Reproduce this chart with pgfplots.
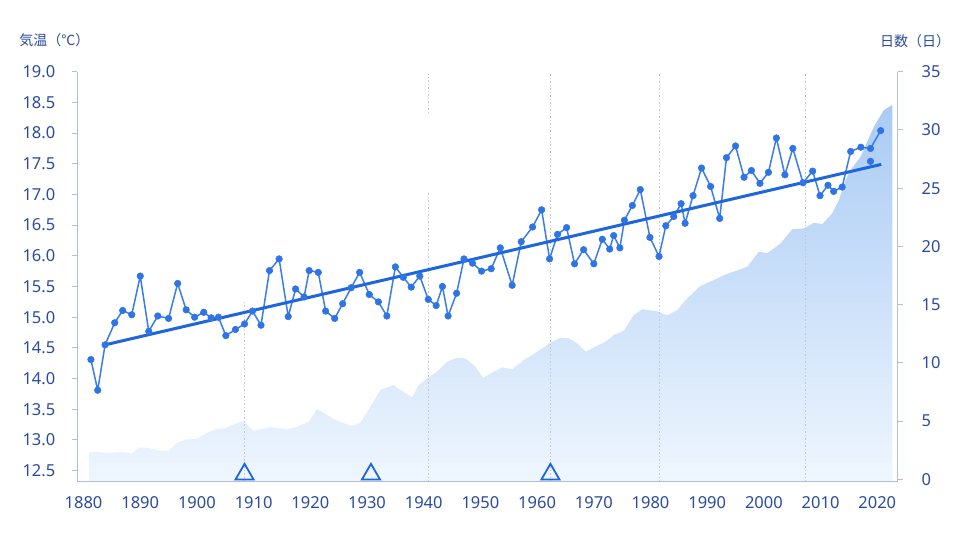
\documentclass[border=0pt]{standalone}
\usepackage{fontspec}
\setmainfont{Noto Sans}
\newfontfamily\cjk{Noto Sans CJK JP}
\usepackage{pgfplots}
\pgfplotsset{compat=1.18}
\definecolor{tickc}{HTML}{2B4C9E}
\definecolor{axc}{HTML}{AFBDE3}
\definecolor{linec}{HTML}{3A7DEA}
\definecolor{markc}{HTML}{2F74E6}
\definecolor{trendc}{HTML}{1E66DE}
\definecolor{gridc}{HTML}{C0C7D6}
\definecolor{areatop}{HTML}{A9CBF4}
\definecolor{areabot}{HTML}{EFF6FE}

\pgfplotstableread{
year temp
1881.3 14.31
1882.5 13.81
1883.8 14.55
1885.5 14.91
1886.9 15.11
1888.5 15.04
1890.0 15.67
1891.5 14.77
1893.1 15.02
1895.0 14.98
1896.6 15.55
1898.1 15.12
1899.6 15.00
1901.2 15.08
1902.5 14.99
1903.8 15.00
1905.1 14.70
1906.8 14.80
1908.4 14.89
1909.8 15.10
1911.3 14.87
1912.8 15.76
1914.5 15.95
1916.1 15.01
1917.4 15.46
1918.9 15.33
1919.8 15.76
1921.4 15.73
1922.7 15.10
1924.3 14.98
1925.7 15.22
1927.2 15.48
1928.7 15.73
1930.4 15.37
1932.0 15.25
1933.5 15.02
1935.0 15.82
1936.4 15.65
1937.8 15.49
1939.3 15.67
1940.8 15.29
1942.2 15.19
1943.3 15.50
1944.3 15.02
1945.8 15.39
1947.1 15.95
1948.6 15.88
1950.2 15.75
1951.9 15.79
1953.5 16.13
1955.6 15.52
1957.2 16.23
1959.2 16.47
1960.8 16.75
1962.2 15.95
1963.6 16.35
1965.2 16.46
1966.6 15.87
1968.2 16.10
1970.0 15.87
1971.5 16.27
1972.8 16.11
1973.5 16.33
1974.6 16.13
1975.4 16.58
1976.8 16.82
1978.2 17.08
1979.9 16.30
1981.5 15.99
1982.7 16.49
1984.1 16.64
1985.4 16.85
1986.1 16.53
1987.5 16.98
1989.0 17.43
1990.6 17.13
1992.2 16.61
1993.4 17.60
1995.0 17.79
1996.5 17.28
1997.8 17.39
1999.3 17.18
2000.8 17.36
2002.2 17.92
2003.7 17.32
2005.1 17.75
2006.9 17.19
2008.6 17.38
2009.9 16.98
2011.3 17.15
2012.3 17.05
2013.8 17.12
2015.3 17.70
2017.1 17.77
2018.8 17.75
2020.6 18.04
}\temps

\pgfplotstableread{
year days
1881.06 -0.2
1881.06 2.32
1882.06 2.37
1884.13 2.26
1886.48 2.34
1888.54 2.23
1889.71 2.75
1891.19 2.71
1893.53 2.46
1895.00 2.43
1896.48 3.14
1898.25 3.43
1900.01 3.49
1901.78 4.00
1903.24 4.29
1905.00 4.40
1906.47 4.72
1908.23 5.01
1910.00 4.17
1912.94 4.49
1915.89 4.29
1917.66 4.52
1919.70 4.95
1921.19 6.04
1922.95 5.52
1924.71 5.03
1927.36 4.58
1928.83 4.86
1930.59 6.23
1932.36 7.67
1934.70 8.10
1935.88 7.67
1937.95 7.04
1939.11 8.10
1940.60 8.67
1942.36 9.24
1944.13 10.10
1945.89 10.44
1947.35 10.39
1949.12 9.67
1950.48 8.72
1952.35 9.24
1953.83 9.62
1955.60 9.45
1957.64 10.24
1960.01 10.96
1962.35 11.73
1964.12 12.16
1965.58 12.11
1967.06 11.68
1968.53 10.96
1970.59 11.47
1972.06 11.82
1973.52 12.39
1975.29 12.76
1977.05 14.11
1978.54 14.60
1981.18 14.43
1982.95 14.08
1984.71 14.54
1986.48 15.54
1988.82 16.62
1991.17 17.11
1992.94 17.54
1995.00 17.89
1997.06 18.26
1999.11 19.54
2000.59 19.41
2002.94 20.26
2005.00 21.47
2007.05 21.55
2008.82 22.03
2010.30 21.92
2012.06 22.84
2013.23 23.98
2014.41 25.70
2015.30 26.56
2017.06 27.70
2019.40 30.28
2021.17 31.71
2022.65 32.14
2022.65 -0.2
}\days

\begin{document}
\begin{tikzpicture}
\useasboundingbox (-77.3pt,-58.3pt) rectangle (882.7pt,481.7pt);
% right axis: number of days (area)
\begin{axis}[
  at={(0pt,0pt)}, anchor=south west, scale only axis,
  width=820.4pt, height=410pt,
  xmin=1878.9, xmax=2023.6, ymin=-0.2, ymax=35,
  axis x line=none, axis y line*=right,
  axis line style={axc, line width=1.2pt},
  ytick={0,5,...,35},
  tick align=outside, major tick length=5.5pt,
  tick style={axc, line width=1pt},
  yticklabel style={font=\fontsize{16.5}{20}\selectfont, text=tickc, xshift=15pt},
  /pgf/number format/assume math mode=true,
]
\addplot[draw=none, top color=areatop, bottom color=areabot] table[x=year, y=days] {\days} -- cycle;
\end{axis}
% left axis: temperature
\begin{axis}[
  at={(0pt,0pt)}, anchor=south west, scale only axis,
  width=820.4pt, height=410pt,
  xmin=1878.9, xmax=2023.6, ymin=12.32, ymax=19.0,
  axis x line*=bottom, axis y line*=left,
  axis line style={axc, line width=1.2pt},
  xtick={1880,1890,...,2020},
  ytick={12.5,13,...,19},
  x tick style={draw=none},
  y tick style={axc, line width=1pt},
  tick align=outside, major tick length=5.5pt,
  yticklabel style={font=\fontsize{16.5}{20}\selectfont, text=tickc, xshift=-13pt,
    /pgf/number format/fixed, /pgf/number format/fixed zerofill, /pgf/number format/precision=1},
  xticklabel style={font=\fontsize{16.5}{20}\selectfont, text=tickc, yshift=-6pt,
    /pgf/number format/1000 sep={}},
  /pgf/number format/assume math mode=true,
  clip=false,
]
% dotted guide lines
\addplot[gridc, line width=0.8pt, dash pattern=on 1.5pt off 2pt] coordinates {(1908.4,12.32) (1908.4,15.27)};
\addplot[gridc, line width=0.8pt, dash pattern=on 1.5pt off 2pt] coordinates {(1940.8,12.32) (1940.8,17.03)};
\addplot[gridc, line width=0.8pt, dash pattern=on 1.5pt off 2pt] coordinates {(1940.8,18.32) (1940.8,18.97)};
\addplot[gridc, line width=0.8pt, dash pattern=on 1.5pt off 2pt] coordinates {(1962.3,12.32) (1962.3,18.97)};
\addplot[gridc, line width=0.8pt, dash pattern=on 1.5pt off 2pt] coordinates {(1981.5,12.32) (1981.5,18.97)};
\addplot[gridc, line width=0.8pt, dash pattern=on 1.5pt off 2pt] coordinates {(2007.3,12.32) (2007.3,18.97)};
% triangles
\addplot[trendc, only marks, mark=triangle, mark size=10.5pt, mark options={solid, draw=trendc, line width=1.8pt, fill=none}]
  coordinates {(1908.4,12.44) (1930.7,12.44) (1962.35,12.44)};
% data line
\addplot[linec, line width=1.5pt, no marks] table[x=year, y=temp] {\temps};
% trend
\addplot[trendc, line width=3pt, no marks] coordinates {(1883.8,14.55) (2020.7,17.49)};
% markers
\addplot[markc, line width=0.5pt, only marks, mark=*, mark size=3.3pt, mark options={solid, fill=markc, draw=markc}] table[x=year, y=temp] {\temps};
\addplot[markc, line width=0.5pt, only marks, mark=*, mark size=3.3pt, mark options={solid, fill=markc, draw=markc}] coordinates {(2018.8,17.54)};
\end{axis}
\node[text=tickc, font=\cjk\fontsize{14}{16}\selectfont] at (-22.8pt,441.2pt) {気温（℃）};
\node[text=tickc, font=\cjk\fontsize{14}{16}\selectfont] at (837.7pt,440.2pt) {日数（日）};
\end{tikzpicture}
\end{document}
